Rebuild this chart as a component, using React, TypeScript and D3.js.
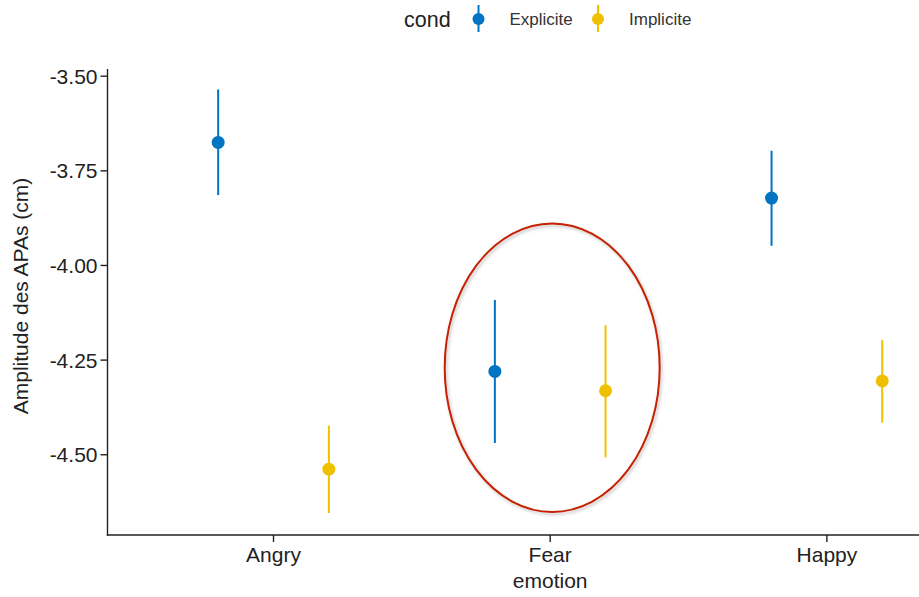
import * as d3 from "d3";

const emotions = ["Angry", "Fear", "Happy"];
const conds = ["Explicite", "Implicite"];
const condColors = ["#0073C2", "#EFC000"];

// mean and error-bar limits per emotion (Angry, Fear, Happy)
const expliciteMean = [-3.675, -4.28, -3.822];
const expliciteLow = [-3.814, -4.469, -3.948];
const expliciteHigh = [-3.535, -4.091, -3.697];
const impliciteMean = [-4.538, -4.331, -4.305];
const impliciteLow = [-4.654, -4.507, -4.415];
const impliciteHigh = [-4.423, -4.158, -4.197];

const yTicks = [-3.5, -3.75, -4.0, -4.25, -4.5];

const W = 919;
const H = 597;
const left = 107.5;
const bottom = 535;
const top = 69;

const FONT = "'Liberation Sans', Arial, Helvetica, sans-serif";

export default function App() {
  const y = d3.scaleLinear().domain([-4.712, -3.481]).range([bottom, top]);
  const x = d3
    .scalePoint<string>()
    .domain(emotions)
    .range([left, left + 885.4])
    .padding(0.6);
  const step = x.step();
  const dodge = d3
    .scalePoint<string>()
    .domain(conds)
    .range([-0.2 * step, 0.2 * step]);

  const series = [
    { cond: conds[0], color: condColors[0], mean: expliciteMean, lo: expliciteLow, hi: expliciteHigh },
    { cond: conds[1], color: condColors[1], mean: impliciteMean, lo: impliciteLow, hi: impliciteHigh },
  ];

  // ggplot prints a plain hyphen, not the unicode minus d3.format uses
  const fmt = (v: number) => d3.format(".2f")(v).replace("\u2212", "-");

  // annotation ellipse around Fear
  const ex = x("Fear")! + 2;
  const eyTop = y(-3.889);
  const eyBot = y(-4.651);

  return (
    <svg
      width={W}
      height={H}
      style={{ position: "absolute", left: 0, top: 0, background: "#fff" }}
      fontFamily={FONT}
    >
      <defs>
        <filter id="shadow" x="-20%" y="-20%" width="140%" height="140%">
          <feDropShadow dx="1.5" dy="2" stdDeviation="1.8" floodColor="#000" floodOpacity="0.25" />
        </filter>
      </defs>

      {/* legend */}
      <g>
        <text x={404} y={27} fontSize={21.5} fill="#222">
          cond
        </text>
        {series.map((s, i) => {
          const kx = 478.5 + i * 119.5;
          return (
            <g key={s.cond}>
              <line x1={kx} x2={kx} y1={5} y2={32} stroke={s.color} strokeWidth={2} />
              <circle cx={kx} cy={19} r={6} fill={s.color} />
              <text x={kx + 31} y={25} fontSize={17} fill="#333">
                {s.cond}
              </text>
            </g>
          );
        })}
      </g>

      {/* axes */}
      <line x1={left} x2={left} y1={top} y2={bottom + 0.7} stroke="#222" strokeWidth={1.4} />
      <line x1={left - 0.7} x2={W} y1={bottom} y2={bottom} stroke="#222" strokeWidth={1.4} />

      {yTicks.map((t) => (
        <g key={t}>
          <line x1={left - 7} x2={left} y1={y(t)} y2={y(t)} stroke="#222" strokeWidth={1.4} />
          <text x={left - 10} y={y(t)} dy="0.36em" textAnchor="end" fontSize={21} fill="#222">
            {fmt(t)}
          </text>
        </g>
      ))}

      {emotions.map((e) => (
        <g key={e}>
          <line x1={x(e)} x2={x(e)} y1={bottom} y2={bottom + 7} stroke="#222" strokeWidth={1.4} />
          <text x={x(e)} y={562} textAnchor="middle" fontSize={21} fill="#222">
            {e}
          </text>
        </g>
      ))}

      <text x={x("Fear")} y={588} textAnchor="middle" fontSize={21} fill="#222">
        emotion
      </text>
      <text
        transform={`translate(28,${(top + bottom) / 2 - 6}) rotate(-90)`}
        textAnchor="middle"
        fontSize={21}
        fill="#222"
      >
        Amplitude des APAs (cm)
      </text>

      {/* error bars and points */}
      {series.map((s) =>
        emotions.map((e, i) => {
          const px = x(e)! + dodge(s.cond)!;
          return (
            <g key={s.cond + e}>
              <line x1={px} x2={px} y1={y(s.hi[i])} y2={y(s.lo[i])} stroke={s.color} strokeWidth={2} />
              <circle cx={px} cy={y(s.mean[i])} r={6.5} fill={s.color} />
            </g>
          );
        })
      )}

      {/* highlight ellipse */}
      <ellipse
        cx={ex}
        cy={(eyTop + eyBot) / 2}
        rx={0.3885 * step}
        ry={(eyBot - eyTop) / 2}
        fill="none"
        stroke="#c42000"
        strokeWidth={2}
        filter="url(#shadow)"
      />
    </svg>
  );
}
